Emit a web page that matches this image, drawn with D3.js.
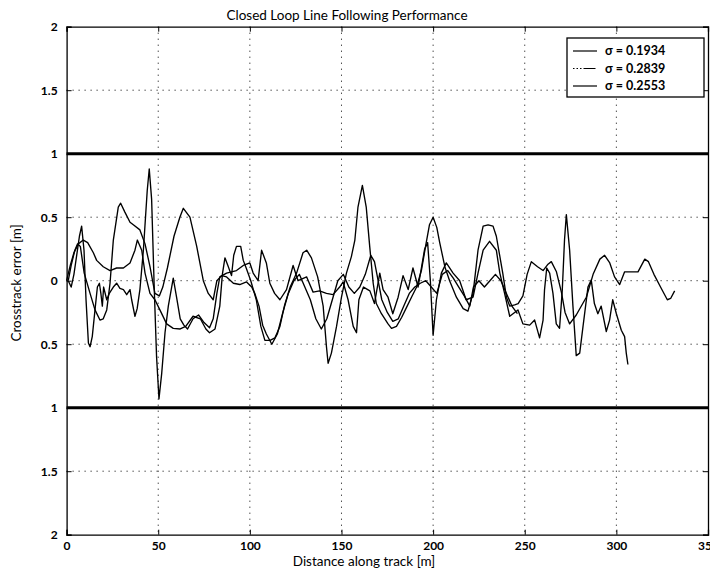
<!DOCTYPE html>
<html>
<head>
<meta charset="utf-8">
<script src="https://cdn.jsdelivr.net/npm/d3@7"></script>
<style>
  body { margin: 0; background: #fff; }
  text { font-family: Lato, "DejaVu Sans", sans-serif; fill: #000; }
</style>
</head>
<body>
<svg></svg>
<script>
// Dados: [distância ao longo da pista (m), erro lateral (m)]
const seriesA = [
  [0,0.0],[2,0.12],[4,0.22],[6.4,0.29],[9.1,0.32],[11.5,0.3],[14.6,0.22],[16.4,0.16],[20,0.11],
  [23.7,0.08],[27.3,0.1],[31,0.1],[34.6,0.14],[37.3,0.24],[38.6,0.32],[41,0.24],[42.8,0.06],
  [45.5,-0.1],[48.2,-0.15],[50.9,-0.23],[54.6,-0.34],[58.2,-0.375],[62,-0.38],[65,-0.36],
  [69,-0.28],[73,-0.3],[76,-0.38],[78,-0.41],[81,-0.38],[83.6,-0.2],[85,0.05],[86.4,0.18],[88,0.12],
  [90,0.04],[91.2,0.2],[92.7,0.27],[95,0.27],[96.4,0.16],[98,0.1],[100.5,0.0],[103.5,-0.15],
  [106,-0.36],[108.2,-0.47],[111,-0.47],[113.7,-0.45],[116.4,-0.36],[119,-0.19],[122,-0.05],
  [125.5,0.06],[129,0.22],[131,0.24],[133.6,0.18],[137,0.03],[140,-0.2],[141.8,-0.52],[142.7,-0.65],
  [144.5,-0.57],[147.3,-0.36],[150,-0.13],[152.7,0.06],[155.4,0.19],[157.3,0.32],[159,0.58],
  [161.4,0.75],[163.5,0.58],[165.4,0.27],[167.3,-0.02],[169,-0.18],[171.8,-0.26],[175.4,-0.34],
  [177.3,-0.375],[180,-0.36],[182.8,-0.29],[185.5,-0.21],[188.2,-0.13],[191,-0.05],[193.6,0.08],
  [196,0.28],[198,0.44],[200,0.5],[202,0.42],[203.6,0.3],[206.4,0.11],[209,0.0],[212.7,-0.13],
  [216.4,-0.22],[219,-0.24],[221.8,-0.1],[224.5,0.24],[227.3,0.43],[230,0.44],[232.7,0.43],
  [234.5,0.35],[238,0.06],[240,-0.13],[241.8,-0.2],[244.5,-0.19],[246.4,-0.18],[249,-0.12],
  [251.3,0.05],[253.6,0.15],[257,0.11],[260,0.08],[262.7,0.13],[264.5,0.15],[267.3,0.07],[270,-0.09],
  [272,-0.25],[274.5,-0.34],[278.1,-0.27],[283.6,-0.13],[287.3,0.05],[291,0.17],[293.6,0.2],
  [296.4,0.14],[299,0.03],[301.8,-0.03],[304.5,0.07],[308,0.07],[311.8,0.07],[315.5,0.17],
  [317.5,0.15],[320.5,0.05],[324.1,-0.05],[327.8,-0.15],[329.6,-0.14],[331.8,-0.08]
];

const seriesB = [
  [0.9,0.0],[2.5,-0.05],[4,0.05],[5.5,0.2],[7,0.35],[8.2,0.43],[9.5,0.24],[10.6,-0.15],[11.9,-0.49],
  [12.8,-0.52],[14,-0.44],[15.5,-0.23],[16.8,-0.05],[17.9,-0.02],[18.7,-0.1],[19.5,-0.2],[20.2,-0.05],
  [21.9,-0.15],[23.3,-0.1],[25.5,-0.05],[27.3,-0.02],[29.1,-0.06],[31,-0.07],[32.8,-0.11],
  [34.6,-0.07],[35.5,-0.15],[37.3,-0.28],[38.5,-0.22],[40,-0.07],[41.9,0.24],[44,0.71],
  [45.1,0.88],[46.4,0.64],[47.8,-0.05],[49.1,-0.6],[50.4,-0.93],[51.9,-0.73],[53.7,-0.41],
  [55.5,-0.2],[58.2,0.02],[60,-0.13],[62,-0.3],[64,-0.35],[66,-0.38],[69,-0.3],[72,-0.27],
  [75,-0.33],[78,-0.37],[80,-0.3],[82,-0.1],[83.6,0.03],[87.3,0.06],[90,0.07],[92.7,0.08],
  [96.4,0.12],[100,0.14],[101.8,0.06],[104.5,0.0],[106.4,0.24],[109,0.14],[110.9,-0.02],
  [113.5,-0.1],[116.4,-0.15],[120,-0.07],[123.6,0.12],[126.3,0.0],[131,0.03],[134.5,-0.09],
  [138,-0.08],[141.8,-0.1],[145.4,-0.11],[149,-0.05],[150.9,-0.01],[153.6,-0.15],[156.4,-0.36],
  [158.2,-0.41],[159.5,-0.15],[162,-0.05],[165.5,-0.08],[168,-0.18],[170.9,0.06],[172.7,-0.07],
  [175.4,-0.13],[178,-0.26],[180.9,-0.13],[183.6,0.04],[186.4,-0.07],[189,0.1],[191.8,-0.05],
  [193.6,0.1],[195.4,0.25],[197,0.3],[198.5,0.0],[200,-0.43],[201.8,-0.15],[204.5,0.06],
  [207.2,0.14],[210.9,0.06],[214.5,0.0],[218,-0.15],[221.8,-0.13],[224.5,0.06],[227.3,0.24],
  [230.8,0.31],[234.5,0.24],[236.4,0.06],[239,-0.1],[241.8,-0.28],[246.3,-0.23],[249,-0.34],
  [252.7,-0.35],[255.4,-0.31],[258.1,-0.45],[260,-0.31],[260.8,-0.07],[262,0.1],[263.6,0.06],
  [265.4,-0.1],[267.2,-0.34],[269,-0.375],[270.5,-0.07],[271.7,0.32],[272.7,0.52],[274.5,0.24],
  [276.3,-0.2],[278.1,-0.59],[280,-0.57],[281.8,-0.36],[284.5,-0.05],[286.3,0.005],[288,-0.18],
  [289.9,-0.26],[291.7,-0.2],[294.5,-0.4],[296.3,-0.31],[298,-0.15],[300,-0.26],[302.7,-0.39],
  [304.5,-0.44],[305.4,-0.57],[306.3,-0.66]
];

const seriesC = [
  [0.9,0.0],[2.5,0.12],[4.5,0.24],[6,0.29],[7.5,0.27],[9.6,0.06],[12.8,-0.1],[15.5,-0.23],
  [18.2,-0.31],[20,-0.3],[21.9,-0.23],[23.7,-0.02],[25.5,0.32],[28.2,0.58],[29.5,0.61],[31.8,0.54],
  [34.6,0.46],[36.4,0.44],[40,0.4],[42.8,0.29],[45.5,0.11],[48.2,-0.1],[50.6,-0.12],[52.5,-0.05],
  [55,0.1],[58.6,0.35],[61.8,0.5],[63.7,0.57],[67.3,0.5],[71,0.27],[74.6,0.0],[77.3,-0.1],
  [80,-0.15],[82,0.0],[84.6,0.04],[87.3,0.03],[91,-0.02],[94.5,-0.03],[98.2,-0.01],[101,-0.05],
  [102.7,-0.1],[105,-0.2],[107,-0.35],[109,-0.42],[112,-0.5],[115,-0.42],[118,-0.25],[121,-0.1],
  [124,0.0],[127,0.05],[130,-0.05],[133,-0.15],[136,-0.3],[139,-0.38],[142,-0.3],[145,-0.15],
  [148,0.0],[151,0.05],[154,-0.05],[157,-0.1],[160,-0.05],[163,0.05],[166,0.2],[168,0.15],[170,0.0],
  [172,-0.15],[175,-0.25],[178,-0.32],[181,-0.3],[184,-0.2],[187,-0.1],[190,-0.05],[193,-0.02],
  [196,0.0],[199,-0.05],[202,-0.1],[205,0.05],[208,0.08],[211,0.02],[214,-0.05],[217,-0.12],
  [220,-0.2],[222,-0.05],[225,0.0],[228,-0.05],[231,0.0],[234,0.05],[237,0.0],[240,-0.1],
  [243,-0.2],[246,-0.26]
];

const legendLabels = ["σ = 0.1934", "σ = 0.2839", "σ = 0.2553"];
const xTicks = [0, 50, 100, 150, 200, 250, 300, 350];
const yTicks = [-2, -1.5, -1, -0.5, 0, 0.5, 1, 1.5, 2];
const limitLines = [1, -1];

const width = 710, height = 571;

const svg = d3.select("svg")
  .attr("width", width)
  .attr("height", height);

// Escalas
const x = d3.scaleLinear().domain([0, 350]).range([66.6, 708]);
const y = d3.scaleLinear().domain([-2, 2]).range([534.7, 26.7]);

// Grelha pontilhada
const grid = svg.append("g");
grid.selectAll("line.v")
  .data(xTicks.slice(1, -1))
  .join("line")
  .attr("x1", d => x(d)).attr("x2", d => x(d))
  .attr("y1", y(2)).attr("y2", y(-2))
  .attr("stroke", "#000").attr("stroke-width", 1)
  .attr("stroke-dasharray", "1,5");
grid.selectAll("line.h")
  .data(yTicks.filter(d => Math.abs(d) !== 2 && Math.abs(d) !== 1))
  .join("line")
  .attr("x1", x(0)).attr("x2", x(350))
  .attr("y1", d => y(d)).attr("y2", d => y(d))
  .attr("stroke", "#000").attr("stroke-width", 1)
  .attr("stroke-dasharray", "1,5");

// Limites de +-1 m (linhas grossas)
svg.append("g").selectAll("line")
  .data(limitLines)
  .join("line")
  .attr("x1", x(0)).attr("x2", x(350))
  .attr("y1", d => y(d)).attr("y2", d => y(d))
  .attr("stroke", "#000").attr("stroke-width", 3);

// Curvas
const line = d3.line().x(d => x(d[0])).y(d => y(d[1]));
svg.append("g").selectAll("path")
  .data([seriesA, seriesB, seriesC])
  .join("path")
  .attr("d", line)
  .attr("fill", "none")
  .attr("stroke", "#000")
  .attr("stroke-width", 1.35)
  .attr("stroke-linejoin", "round");

// Eixos (marcas para dentro, estilo MATLAB)
const fmt = d => d3.format("~g")(Math.abs(d));
svg.append("g")
  .attr("transform", `translate(0,${y(-2)})`)
  .call(d3.axisBottom(x).tickValues(xTicks).tickSize(-5).tickPadding(7).tickFormat(fmt))
  .call(g => g.selectAll("text").attr("font-size", 12).attr("font-weight", "bold"));
svg.append("g")
  .attr("transform", `translate(0,${y(2)})`)
  .call(d3.axisTop(x).tickValues(xTicks).tickSize(-5).tickFormat(""));
svg.append("g")
  .attr("transform", `translate(${x(0)},0)`)
  .call(d3.axisLeft(y).tickValues(yTicks).tickSize(-5).tickPadding(9).tickFormat(fmt))
  .call(g => g.selectAll("text").attr("font-size", 12).attr("font-weight", "bold"));
svg.append("g")
  .attr("transform", `translate(${x(350)},0)`)
  .call(d3.axisRight(y).tickValues(yTicks).tickSize(-5).tickFormat(""));
svg.selectAll(".domain").attr("stroke-width", 1.3);

// Títulos
svg.append("text")
  .attr("x", 347).attr("y", 20)
  .attr("text-anchor", "middle")
  .attr("font-size", 13.5)
  .text("Closed Loop Line Following Performance");
svg.append("text")
  .attr("x", 364).attr("y", 566)
  .attr("text-anchor", "middle")
  .attr("font-size", 13.5)
  .text("Distance along track [m]");
svg.append("text")
  .attr("transform", "translate(21,283) rotate(-90)")
  .attr("text-anchor", "middle")
  .attr("font-size", 13.5)
  .text("Crosstrack error [m]");

// Legenda
const legend = svg.append("g");
legend.append("rect")
  .attr("x", 567).attr("y", 38)
  .attr("width", 137).attr("height", 59)
  .attr("fill", "#fff").attr("stroke", "#000").attr("stroke-width", 1.3);
const rows = legend.selectAll("g.row")
  .data(legendLabels)
  .join("g")
  .attr("transform", (d, i) => `translate(0,${51 + i * 17.5})`);
rows.append("line")
  .attr("x1", 573).attr("x2", 597)
  .attr("stroke", "#000").attr("stroke-width", 1.2)
  .attr("stroke-dasharray", (d, i) => i === 1 ? "1.5,2,1.5,2,1.5,2,12" : null);
rows.append("text")
  .attr("x", 605).attr("dy", "0.35em")
  .attr("font-size", 12.5).attr("font-weight", "bold")
  .text(d => d);
</script>
</body>
</html>
